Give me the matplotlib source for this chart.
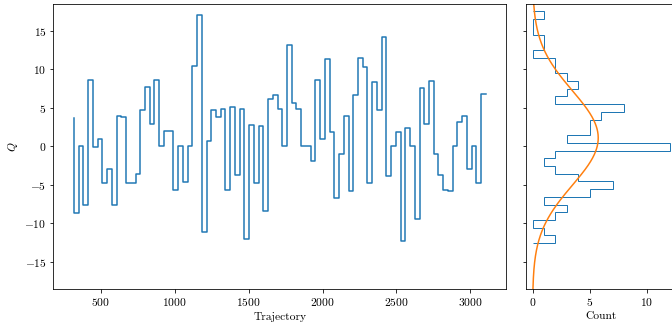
import numpy as np
import matplotlib
matplotlib.use("Agg")
import matplotlib.pyplot as plt

plt.rcParams.update({
    "font.family": "serif",
    "font.serif": ["cmr10", "DejaVu Serif"],
    "mathtext.fontset": "cm",
    "axes.formatter.use_mathtext": True,
    "font.size": 11.5,
})

# Monte Carlo history of the topological charge
traj_start = 320
traj_step = 32
q_values = [
    3.70, -8.67, 0.00, -7.59, 8.59, -0.13, 1.00, -4.82, -2.90, -7.59,
    3.91, 3.82, -4.82, -4.82, -3.60, 4.78, 7.68, 2.92, 8.59, 0.00,
    1.95, 1.95, -5.73, 0.00, -4.69, 0.00, 10.45, 17.10, -11.10, 0.74,
    4.78, 3.83, 4.86, -5.73, 5.08, -3.78, 4.86, -11.98, 2.73, -4.77,
    2.60, -8.41, 6.12, 6.69, 4.86, 0.00, 13.15, 5.69, 4.82, 0.00,
    0.00, -1.90, 8.64, 0.96, 11.38, 1.91, -6.72, -0.99, 3.91, -5.81,
    6.73, 11.46, 10.29, -4.73, 8.33, 4.78, 14.19, -3.82, 0.00, 1.82,
    -12.24, 2.43, 0.00, -9.50, 7.55, 2.96, 8.45, -0.95, -3.73, -5.73,
    -5.81, 0.09, 3.13, 3.91, -2.90, 0.00, -4.77, 6.77,
]
q = np.array(q_values)
trajectory = traj_start + traj_step * np.arange(len(q))

# histogram binning and axis extent
n_bins = 30
bin_range = (-12.59, 17.53)
q_lim = 18.5

fig = plt.figure(figsize=(672 / 72, 329 / 72), dpi=72)
ax = fig.add_axes([53.4 / 672, 40.3 / 329, 453 / 672, 284.7 / 329])
axh = fig.add_axes([525.7 / 672, 40.3 / 329, 151 / 672, 284.7 / 329], sharey=ax)

ax.step(trajectory, q, color="C0")
ax.set_xlabel("Trajectory")
ax.set_ylabel("$Q$")
ax.set_ylim(-q_lim, q_lim)

counts, edges, _ = axh.hist(q, bins=n_bins, range=bin_range, orientation="horizontal",
                            histtype="step", color="C0")
bin_width = edges[1] - edges[0]
mu, sigma = q.mean(), q.std(ddof=1)
qq = np.linspace(-q_lim, q_lim, 400)
gauss = len(q) * bin_width * np.exp(-0.5 * ((qq - mu) / sigma) ** 2) / (np.sqrt(2 * np.pi) * sigma)
axh.plot(gauss, qq, color="C1")
axh.set_xlabel("Count")
axh.tick_params(labelleft=False)
axh.set_xticks([0, 5, 10])
cmax = counts.max()
axh.set_xlim(-0.05 * cmax, 1.05 * cmax)

fig.savefig("out.png", dpi=72)
